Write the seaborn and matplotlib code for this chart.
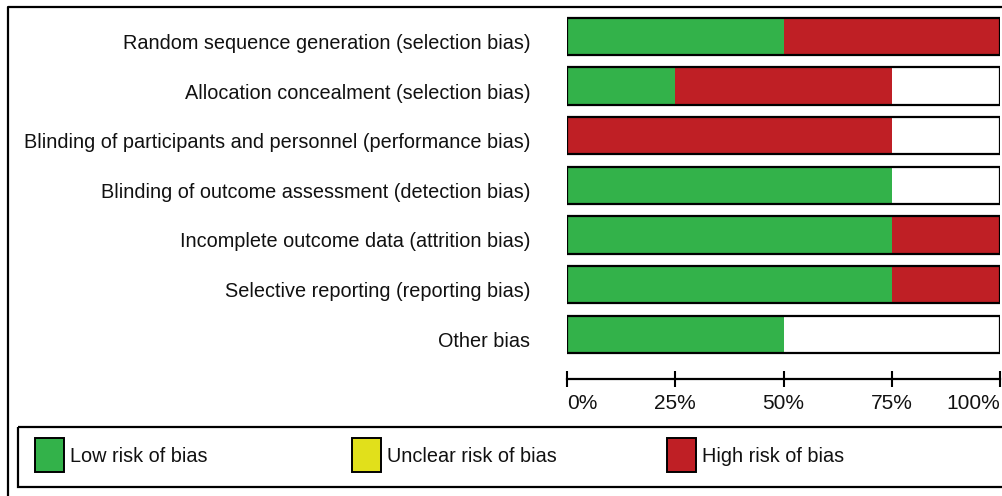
import numpy as np
import pandas as pd
import matplotlib
matplotlib.use("Agg")
import matplotlib.pyplot as plt
import matplotlib.transforms as mtransforms
import seaborn as sns
from matplotlib.patches import Rectangle

# Risk of bias summary (percentage of studies)
domains = [
    "Random sequence generation (selection bias)",
    "Allocation concealment (selection bias)",
    "Blinding of participants and personnel (performance bias)",
    "Blinding of outcome assessment (detection bias)",
    "Incomplete outcome data (attrition bias)",
    "Selective reporting (reporting bias)",
    "Other bias",
]
low_risk = [50, 25, 0, 75, 75, 75, 50]
unclear_risk = [0, 0, 0, 0, 0, 0, 0]
high_risk = [50, 50, 75, 0, 25, 25, 0]

risk_levels = ["Low risk of bias", "Unclear risk of bias", "High risk of bias"]
risk_colors = ["#33b24a", "#e1e01b", "#bf1f25"]
pct_ticks = [0, 25, 50, 75, 100]
pct_labels = ["0%", "25%", "50%", "75%", "100%"]

sns.set_style("white")
plt.rcParams["font.family"] = ["Liberation Sans Narrow", "Liberation Sans", "DejaVu Sans"]

W, H = 1002, 496
fig = plt.figure(figsize=(W / 100, H / 100), dpi=100)
ax = fig.add_axes([567 / W, 117 / H, 433 / W, 369 / H])

df = pd.DataFrame({"domain": domains, "low": low_risk,
                   "unclear": unclear_risk, "high": high_risk})
df["low_unclear"] = df["low"] + df["unclear"]
df["total"] = df["low_unclear"] + df["high"]
df["full"] = 100

# stacked bars drawn back to front: cumulative high, unclear, low
bar_w = 0.75
sns.barplot(data=df, x="total", y="domain", color=risk_colors[2], width=bar_w,
            saturation=1, linewidth=0, ax=ax)
sns.barplot(data=df, x="low_unclear", y="domain", color=risk_colors[1], width=bar_w,
            saturation=1, linewidth=0, ax=ax)
sns.barplot(data=df, x="low", y="domain", color=risk_colors[0], width=bar_w,
            saturation=1, linewidth=0, ax=ax)
# outline box for every domain
sns.barplot(data=df, x="full", y="domain", color="black", fill=False, width=bar_w,
            linewidth=1.6, ax=ax)

ax.set_xlim(0, 100)
ax.set_ylim(6.905, -0.534)
ax.set_xlabel("")
ax.set_ylabel("")
for side in ["left", "top", "right"]:
    ax.spines[side].set_visible(False)
ax.spines["bottom"].set_linewidth(1.6)
ax.spines["bottom"].set_color("black")

ax.set_xticks(pct_ticks)
ax.set_xticklabels(pct_labels, fontsize=15, color="#111111")
ax.tick_params(axis="x", direction="inout", length=11, width=1.5, color="black", pad=5, bottom=True)
xl = ax.get_xticklabels()
xl[0].set_ha("left")
xl[-1].set_ha("right")

ax.tick_params(axis="y", length=0, pad=26.5, labelsize=14.3, labelcolor="#111111")
shift = mtransforms.ScaledTranslation(0, -0.05, fig.dpi_scale_trans)
for lbl in ax.get_yticklabels():
    lbl.set_transform(lbl.get_transform() + shift)

# overlay in pixel coordinates for the frame and legend
ov = fig.add_axes([0, 0, 1, 1])
ov.set_xlim(0, W)
ov.set_ylim(H, 0)
ov.axis("off")
ov.patch.set_alpha(0)
ov.plot([8, 8, W + 5], [H + 5, 7, 7], color="black", lw=1.6, clip_on=False)
ov.add_patch(Rectangle((18, 427), W, 60, fill=False, edgecolor="black", lw=1.6, clip_on=False))

legend_x = [35, 352, 667]
for x0, name, col in zip(legend_x, risk_levels, risk_colors):
    ov.add_patch(Rectangle((x0, 438), 29, 34, facecolor=col, edgecolor="black", lw=1.4))
    ov.text(x0 + 35, 457, name, fontsize=14.3, va="center", ha="left", color="#111111")

fig.savefig("out.png", dpi=100)
